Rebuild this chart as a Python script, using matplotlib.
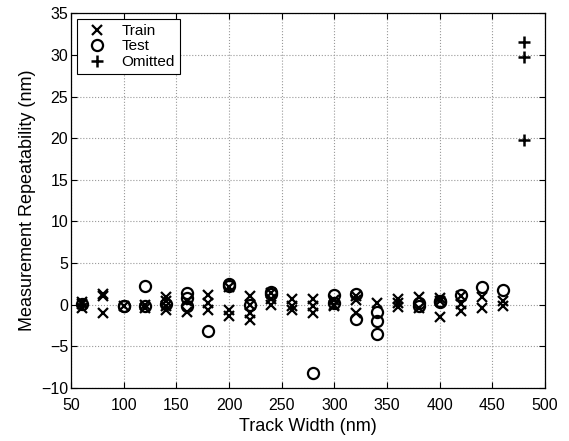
import numpy as np
import matplotlib
matplotlib.use('Agg')
import matplotlib.pyplot as plt

plt.rcParams['font.family'] = ['Liberation Sans', 'DejaVu Sans']

# repeatability per track width (nm)
train_x = [60, 60, 60, 80, 80, 80, 100, 120, 120, 140, 140, 140, 140,
           160, 160, 180, 180, 180, 200, 200, 200, 220, 220, 220, 220,
           240, 240, 240, 260, 260, 260, 280, 280, 280, 300, 300, 300,
           320, 320, 320, 340, 360, 360, 360, 380, 380, 400, 400, 400,
           420, 420, 420, 440, 440, 460, 460]
train_y = [0.3, -0.4, 0.1, 1.3, 1.0, -1.0, -0.2, 0.0, -0.4, 0.9, 0.4, -0.2, -0.6,
           0.4, -0.9, 1.2, 0.2, -0.6, 2.1, -0.6, -1.3, 1.1, 0.0, -1.0, -1.8,
           1.4, 0.7, 0.0, 0.7, -0.2, -0.6, 0.7, -0.1, -1.0, 0.6, 0.0, -0.1,
           1.0, 0.6, -1.0, 0.2, 0.7, 0.2, -0.3, 0.9, -0.4, 0.8, 0.5, -1.5,
           1.0, 0.1, -0.7, 0.9, -0.4, 0.5, -0.2]

test_x = [60, 100, 100, 120, 120, 140, 160, 160, 160, 180, 200, 200, 220,
          240, 240, 280, 300, 300, 320, 320, 340, 340, 340, 380, 380,
          400, 400, 420, 440, 460]
test_y = [0.1, -0.2, -0.1, 2.2, -0.1, 0.1, 1.4, 0.8, -0.1, -3.1, 2.5, 2.3, 0.0,
          1.3, 1.5, -8.2, 1.2, 0.2, 1.3, -1.7, -0.9, -1.9, -3.5, 0.2, -0.1,
          0.5, 0.3, 1.2, 2.1, 1.8]

omit_x = [480, 480, 480]
omit_y = [31.6, 29.7, 19.8]

fig = plt.figure(figsize=(5.69, 4.41), dpi=100)
ax = fig.add_axes([0.125, 0.12, 0.833, 0.85])

ax.plot(train_x, train_y, 'x', color='black', markersize=7, markeredgewidth=1.6, label='Train')
ax.plot(test_x, test_y, 'o', color='black', markerfacecolor='none', markersize=8,
        markeredgewidth=1.6, label='Test')
ax.plot(omit_x, omit_y, '+', color='black', markersize=9, markeredgewidth=1.8, label='Omitted')

ax.set_xlim(50, 500)
ax.set_ylim(-10, 35)
ax.set_xticks(np.arange(50, 501, 50))
ax.set_yticks(np.arange(-10, 36, 5))
ax.tick_params(direction='in', top=True, right=True, labelsize=11.5, length=4, width=0.8)
ax.tick_params(axis='x', pad=7)
ax.tick_params(axis='y', pad=2)
ax.grid(True, linestyle=':', color='#999999', linewidth=0.8)
for s in ax.spines.values():
    s.set_linewidth(0.9)

ax.set_xlabel('Track Width (nm)', fontsize=13, labelpad=4)
ax.set_ylabel('Measurement Repeatability (nm)', fontsize=13)

leg = ax.legend(loc='upper left', fontsize=11, fancybox=False, framealpha=1,
                edgecolor='black', borderaxespad=0.4, handletextpad=0.6,
                labelspacing=0.1, borderpad=0.3)
leg.get_frame().set_linewidth(0.8)

fig.savefig('out.png', dpi=100)
